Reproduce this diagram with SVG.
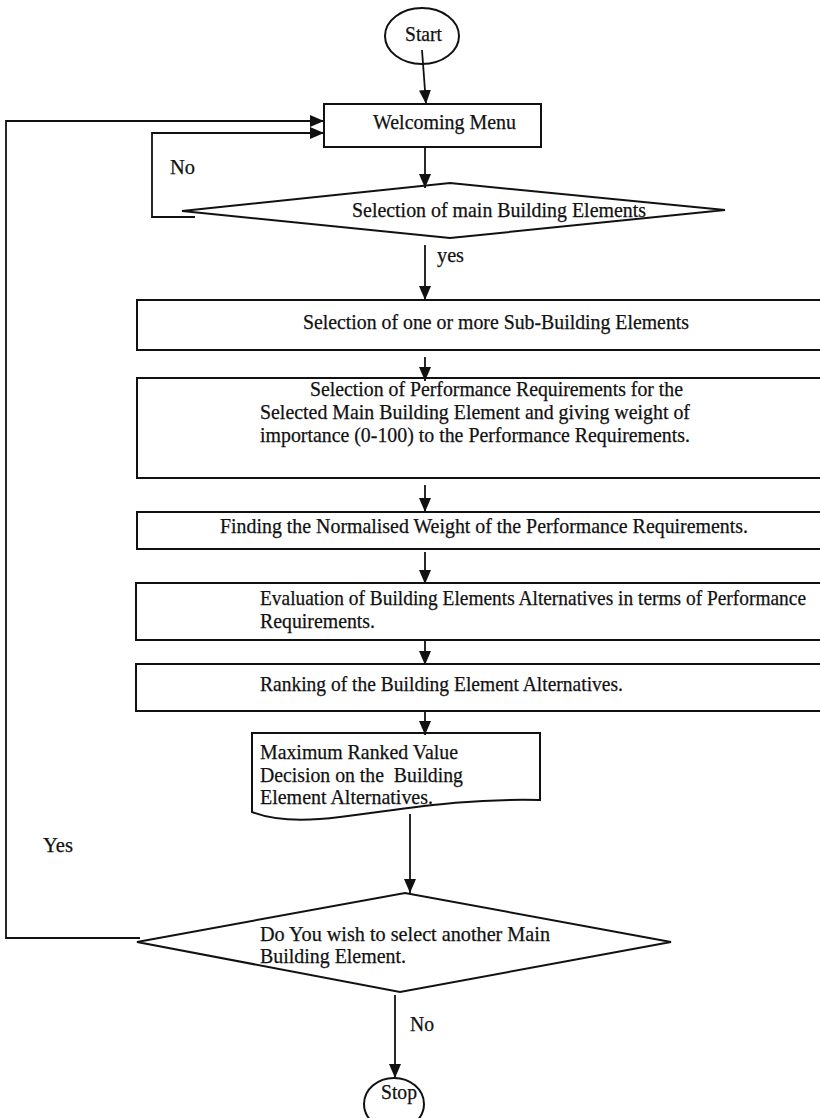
<svg xmlns="http://www.w3.org/2000/svg" width="820" height="1118" viewBox="0 0 820 1118">
<style>
.s{fill:#fff;stroke:#111;stroke-width:2}
.c{fill:none;stroke:#111;stroke-width:1.8}
text{font-family:"Liberation Serif","Times New Roman",serif;font-size:21px;fill:#111;stroke:#111;stroke-width:0.25}
</style>
<defs>
<marker id="ah" viewBox="0 0 14 12" refX="14" refY="6" markerWidth="14" markerHeight="12" markerUnits="userSpaceOnUse" orient="auto">
<path d="M0,0 L14,6 L0,12 Z" fill="#111"/>
</marker>
</defs>
<rect width="820" height="1118" fill="#fff"/>
<g id="start"><ellipse class="s" cx="422" cy="36" rx="37" ry="28"/><text x="405" y="41" textLength="37" lengthAdjust="spacingAndGlyphs">Start</text></g>
<g id="welcome"><rect class="s" x="324" y="104" width="217" height="43"/><text x="373" y="129" textLength="143" lengthAdjust="spacingAndGlyphs">Welcoming Menu</text></g>
<g id="decision1"><polygon class="s" points="182,211 450,183 725,210 450,238"/><text x="352" y="217" textLength="294" lengthAdjust="spacingAndGlyphs">Selection of main Building Elements</text></g>
<g id="sub"><rect class="s" x="137" y="300" width="690" height="50"/><text x="303" y="329" textLength="386" lengthAdjust="spacingAndGlyphs">Selection of one or more Sub-Building Elements</text></g>
<g id="perf"><rect class="s" x="137" y="378" width="690" height="100"/><text x="310" y="396" textLength="373" lengthAdjust="spacingAndGlyphs">Selection of Performance Requirements for the</text><text x="260" y="419" textLength="430" lengthAdjust="spacingAndGlyphs">Selected Main Building Element and giving weight of</text><text x="260" y="442" textLength="430" lengthAdjust="spacingAndGlyphs">importance (0-100) to the Performance Requirements.</text></g>
<g id="norm"><rect class="s" x="137" y="512" width="690" height="37"/><text x="220" y="533" textLength="528" lengthAdjust="spacingAndGlyphs">Finding the Normalised Weight of the Performance Requirements.</text></g>
<g id="eval"><rect class="s" x="136" y="583" width="690" height="57"/><text x="260" y="605" textLength="546" lengthAdjust="spacingAndGlyphs">Evaluation of Building Elements Alternatives in terms of Performance</text><text x="260" y="628" textLength="115" lengthAdjust="spacingAndGlyphs">Requirements.</text></g>
<g id="rank"><rect class="s" x="136" y="664" width="690" height="47"/><text x="260" y="691" textLength="363" lengthAdjust="spacingAndGlyphs">Ranking of the Building Element Alternatives.</text></g>
<g id="decisiondoc"><path class="s" d="M252,733 H540 V800 C460,798 400,810 340,817 C300,822 272,820 252,812 Z"/><text x="260" y="759" textLength="198" lengthAdjust="spacingAndGlyphs">Maximum Ranked Value</text><text x="260" y="782" xml:space="preserve" textLength="203" lengthAdjust="spacingAndGlyphs">Decision on the  Building</text><text x="260" y="804" textLength="173" lengthAdjust="spacingAndGlyphs">Element Alternatives.</text></g>
<g id="decision2"><polygon class="s" points="137,942 405,893 671,942 400,992"/><text x="260" y="941" textLength="290" lengthAdjust="spacingAndGlyphs">Do You wish to select another Main</text><text x="260" y="963" textLength="146" lengthAdjust="spacingAndGlyphs">Building Element.</text></g>
<g id="stop"><ellipse class="s" cx="394" cy="1104" rx="30" ry="26"/><text x="381" y="1099" textLength="36" lengthAdjust="spacingAndGlyphs">Stop</text></g>
<g id="connectors">
<line class="c" x1="422" y1="50" x2="426" y2="104" marker-end="url(#ah)"/>
<line class="c" x1="425" y1="147" x2="425" y2="188" marker-end="url(#ah)"/>
<polyline class="c" points="195,217 152,217 152,133 324,133" marker-end="url(#ah)"/>
<polyline class="c" points="140,938 6,938 6,121 324,121" marker-end="url(#ah)"/>
<line class="c" x1="425" y1="245" x2="425" y2="300" marker-end="url(#ah)"/>
<line class="c" x1="425" y1="357" x2="425" y2="381" marker-end="url(#ah)"/>
<line class="c" x1="425" y1="485" x2="425" y2="512" marker-end="url(#ah)"/>
<line class="c" x1="425" y1="552" x2="425" y2="584" marker-end="url(#ah)"/>
<line class="c" x1="425" y1="640" x2="425" y2="665" marker-end="url(#ah)"/>
<line class="c" x1="425" y1="711" x2="425" y2="735" marker-end="url(#ah)"/>
<line class="c" x1="410" y1="814" x2="410" y2="893" marker-end="url(#ah)"/>
<line class="c" x1="395" y1="995" x2="395" y2="1078" marker-end="url(#ah)"/>
<text x="170" y="174" textLength="25" lengthAdjust="spacingAndGlyphs">No</text>
<text x="437" y="262" textLength="27" lengthAdjust="spacingAndGlyphs">yes</text>
<text x="43" y="852" textLength="30" lengthAdjust="spacingAndGlyphs">Yes</text>
<text x="410" y="1031" textLength="24" lengthAdjust="spacingAndGlyphs">No</text>
</g>
</svg>
